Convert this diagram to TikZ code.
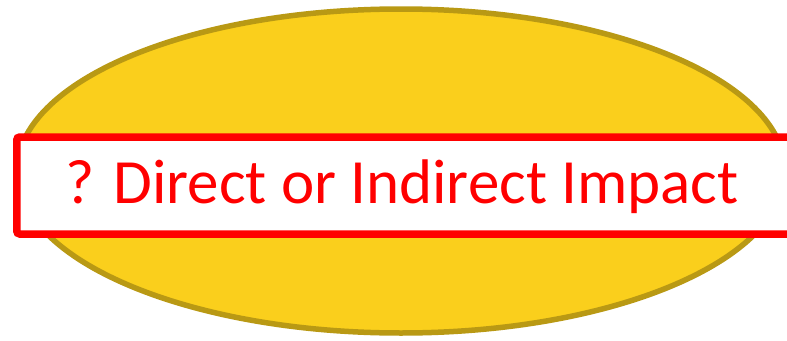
\documentclass[tikz,border=0pt]{standalone}
\usepackage{fontspec}
\setmainfont{Carlito}
\usepackage{tikz}
\usetikzlibrary{shapes.geometric}

\definecolor{blobfill}{RGB}{250,207,28}
\definecolor{blobline}{RGB}{185,153,20}
\definecolor{impactred}{RGB}{255,0,0}

\begin{document}
\begin{tikzpicture}[x=1pt, y=-1pt,
    blob/.style={ellipse, draw=blobline, fill=blobfill, line width=5.5pt,
        minimum width=768pt, minimum height=324pt, inner sep=0pt},
    impactbox/.style={rectangle, draw=impactred, fill=white, line width=7.5pt,
        rounded corners=3pt, minimum width=778pt, minimum height=97pt}]

    % Canvas
    \useasboundingbox (0,0) rectangle (787,340);

    % Yellow ellipse
    \node[blob] (blob) at (401,171) {};

    % Red-framed label across it
    \node[impactbox, anchor=west] (impact) at (13,185.5) {};
    \node[text=impactred, font=\fontsize{63}{70}\selectfont] (impacttext) at (402,187) {? Direct or Indirect Impact};

\end{tikzpicture}
\end{document}
